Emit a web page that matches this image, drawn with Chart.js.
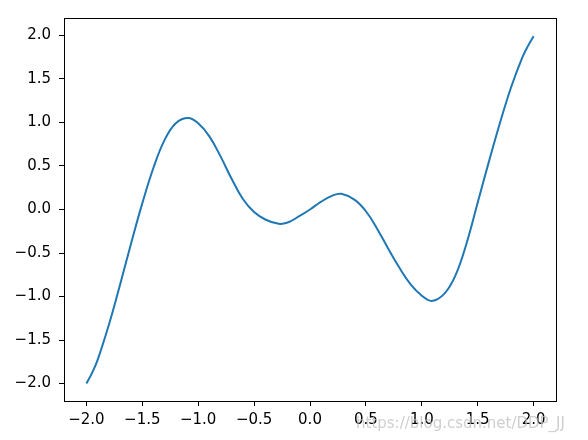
<!DOCTYPE html>
<html>
<head>
<meta charset="utf-8">
<script src="https://cdn.jsdelivr.net/npm/chart.js@4/dist/chart.umd.min.js"></script>
<style>
html,body{margin:0;padding:0;background:#fff;}
#wrap{width:588px;height:440px;position:relative;}
</style>
</head>
<body>
<div id="wrap"><canvas id="c" width="588" height="440"></canvas></div>
<script>
const xValues = [-2.0,-1.95,-1.9,-1.8,-1.7,-1.6,-1.5,-1.4,-1.3,-1.2,-1.09,-1.0,-0.9,-0.8,-0.7,-0.6,-0.5,-0.4,-0.28,-0.2,-0.1,0.0,0.1,0.2,0.28,0.4,0.5,0.6,0.7,0.8,0.9,1.0,1.09,1.2,1.3,1.4,1.5,1.6,1.7,1.8,1.9,1.95,2.0];
const yValues = [-2.00,-1.88,-1.73,-1.33,-0.87,-0.39,0.07,0.48,0.80,0.99,1.05,0.99,0.84,0.61,0.35,0.12,-0.03,-0.115,-0.165,-0.15,-0.08,0.0,0.09,0.16,0.18,0.11,-0.02,-0.22,-0.45,-0.67,-0.86,-0.99,-1.05,-0.97,-0.76,-0.39,0.08,0.55,1.00,1.41,1.75,1.88,1.99];
const xTicks = [-2.0,-1.5,-1.0,-0.5,0.0,0.5,1.0,1.5,2.0];
const yTicks = [-2.0,-1.5,-1.0,-0.5,0.0,0.5,1.0,1.5,2.0];
const watermark = "https://blog.csdn.net/DDP_JJ";

const points = xValues.map((x,i)=>({x:x,y:yValues[i]}));
const fmt = v => { const s = v.toFixed(1); return v < 0 ? '\u2212' + s.slice(1) : s; };

const frame = {
  id:'frame',
  afterDraw(chart){
    const {ctx, chartArea:a} = chart;
    ctx.save();
    ctx.strokeStyle = '#000';
    ctx.lineWidth = 1;
    ctx.strokeRect(Math.round(a.left)+0.5, Math.round(a.top)+0.5, Math.round(a.right-a.left), Math.round(a.bottom-a.top));
    ctx.font = '15px "DejaVu Sans"';
    ctx.fillStyle = 'rgba(190,190,190,0.75)';
    ctx.textBaseline = 'middle';
    ctx.fillText(watermark, 356, 424);
    ctx.restore();
  }
};

new Chart(document.getElementById('c'), {
  type:'line',
  data:{datasets:[{data:points, borderColor:'#1f77b4', borderWidth:2, pointRadius:0, fill:false, tension:0.4}]},
  options:{
    responsive:false, animation:false,
    layout:{padding:{top:18,right:32,left:0,bottom:0}},
    plugins:{legend:{display:false}, tooltip:{enabled:false}},
    scales:{
      x:{type:'linear', min:-2.2, max:2.2,
        afterBuildTicks: s => { s.ticks = xTicks.map(v=>({value:v})); },
        afterFit: s => { s.height = 39; },
        grid:{drawOnChartArea:false, drawTicks:true, tickLength:5, tickColor:'#000'},
        border:{display:true, color:'#000'},
        ticks:{color:'#000', font:{family:'DejaVu Sans', size:15}, padding:5, maxRotation:0, autoSkip:false, callback:v=>fmt(v)}
      },
      y:{type:'linear', min:-2.2, max:2.2,
        afterBuildTicks: s => { s.ticks = yTicks.map(v=>({value:v})); },
        afterFit: s => { s.width = 64; },
        grid:{drawOnChartArea:false, drawTicks:true, tickLength:5, tickColor:'#000'},
        border:{display:true, color:'#000'},
        ticks:{color:'#000', font:{family:'DejaVu Sans', size:15}, padding:8, autoSkip:false, callback:v=>fmt(v)}
      }
    }
  },
  plugins:[frame]
});
</script>
</body>
</html>
